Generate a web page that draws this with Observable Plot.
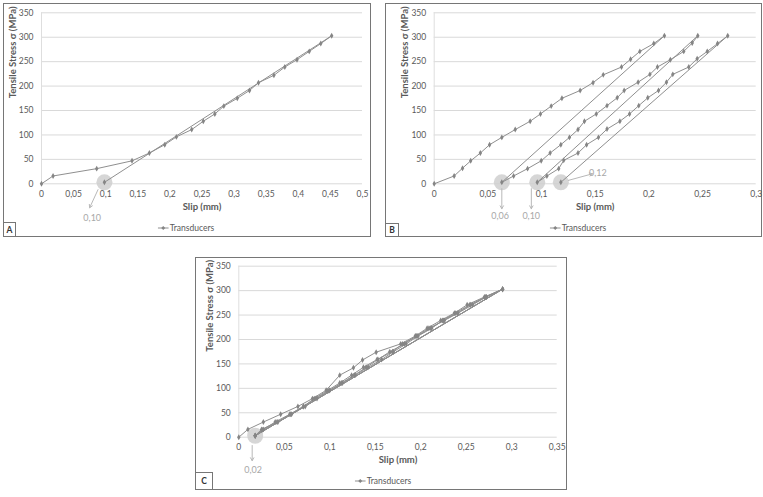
<!DOCTYPE html>
<html>
<head>
<meta charset="utf-8">
<script src="https://cdn.jsdelivr.net/npm/d3@7"></script>
<script src="https://cdn.jsdelivr.net/npm/@observablehq/plot@0.6"></script>
<style>
  body { margin: 0; background: #fff; }
  #page { position: relative; width: 763px; height: 497px; overflow: hidden; background: #fff; font-family: Lato, "Open Sans", sans-serif; }
  .frame { position: absolute; border: 1px solid #767676; box-sizing: border-box; }
  .plot { position: absolute; }
  .tag { position: absolute; border: 1px solid #767676; box-sizing: border-box; font-weight: bold; font-size: 8.5px; color: #333; display: flex; align-items: center; justify-content: center; background: #fff; }
  .legend { position: absolute; font-size: 8.5px; color: #595959; display: flex; align-items: center; white-space: nowrap; transform: translate(-50%, -50%); }
  .legend svg { margin-right: 1px; }
</style>
</head>
<body>
<div id="page"></div>
<script>
// ---------- data ----------
const yTicks = [0, 50, 100, 150, 200, 250, 300, 350];
const xTicksA = [0, 0.05, 0.1, 0.15, 0.2, 0.25, 0.3, 0.35, 0.4, 0.45, 0.5];
const xTicksB = [0, 0.05, 0.1, 0.15, 0.2, 0.25, 0.3];
const xTicksC = [0, 0.05, 0.1, 0.15, 0.2, 0.25, 0.3, 0.35];
const panelNames = ["A", "B", "C"];
const seriesName = "Transducers";
const xTitle = "Slip (mm)";
const yTitle = "Tensile Stress σ (MPa)";

// Panel A: load to peak, unload to residual slip
const slipA = [0, 0.018, 0.086, 0.141, 0.168, 0.192, 0.210, 0.234, 0.252, 0.270, 0.284, 0.305, 0.324, 0.338, 0.362, 0.379, 0.398, 0.417, 0.435, 0.452, 0.098];
const stressA = [0, 16, 31, 47, 63, 80, 96, 111, 128, 143, 159, 175, 191, 207, 222, 239, 254, 271, 287, 303, 3];

// Panel B: three load/unload cycles
const slipB = [
  0, 0.0186, 0.0264, 0.034, 0.043, 0.0516, 0.063, 0.0755, 0.0894, 0.099, 0.109, 0.119, 0.136, 0.148, 0.1575, 0.1745, 0.183, 0.1916, 0.2046, 0.2145, 0.063,
  0.074, 0.087, 0.0997, 0.108, 0.118, 0.126, 0.134, 0.140, 0.151, 0.161, 0.1705, 0.177, 0.190, 0.201, 0.208, 0.220, 0.2325, 0.2404, 0.2456, 0.096,
  0.105, 0.116, 0.1207, 0.134, 0.142, 0.153, 0.161, 0.173, 0.182, 0.1906, 0.199, 0.209, 0.2164, 0.2223, 0.2372, 0.245, 0.2544, 0.264, 0.2735, 0.118
];
const stressB = [
  0, 16, 32, 47, 63, 80, 95, 111, 128, 143, 159, 175, 191, 207, 223, 239, 255, 271, 287, 303, 3,
  16, 31, 47, 63, 80, 95, 111, 128, 143, 160, 176, 191, 208, 224, 239, 254, 271, 288, 303, 3,
  16, 31, 48, 63, 80, 95, 112, 128, 143, 160, 176, 191, 208, 224, 239, 256, 271, 287, 303, 3
];

// Panel C: four cycles around a residual slip of 0.02
const slipC = [
  0, 0.010, 0.027, 0.046, 0.065, 0.081, 0.096, 0.111, 0.126, 0.136, 0.151, 0.178, 0.194, 0.207, 0.222, 0.237, 0.251, 0.270, 0.290, 0.018,
  0.025, 0.042, 0.057, 0.071, 0.083, 0.097, 0.111, 0.124, 0.137, 0.152, 0.169, 0.180, 0.196, 0.211, 0.225, 0.240, 0.255, 0.272, 0.290, 0.018,
  0.027, 0.043, 0.058, 0.073, 0.086, 0.100, 0.113, 0.127, 0.140, 0.153, 0.166, 0.182, 0.195, 0.209, 0.226, 0.241, 0.257, 0.272, 0.290, 0.018,
  0.026, 0.040, 0.056, 0.071, 0.085, 0.099, 0.114, 0.128, 0.142, 0.157, 0.170, 0.184, 0.197, 0.212, 0.224, 0.238, 0.254, 0.271, 0.290, 0.018
];
const stressC = [
  0, 16, 31, 47, 63, 79, 96, 127, 142, 158, 174, 191, 207, 223, 239, 254, 271, 287, 303, 3,
  16, 31, 47, 63, 79, 95, 111, 127, 143, 159, 175, 191, 207, 223, 239, 254, 271, 287, 303, 3,
  16, 31, 47, 63, 79, 96, 111, 127, 143, 159, 175, 191, 207, 223, 239, 254, 271, 287, 303, 3,
  15, 31, 47, 63, 80, 95, 111, 127, 143, 159, 175, 191, 207, 223, 239, 254, 271, 287, 303, 3
];

// annotations: residual slip highlights, arrows and labels
const circlesA = [{x: 0.098, y: 3}];
const arrowsA = [{x1: 0.088, y1: -12, x2: 0.075, y2: -49}];
const labelsA = [{x: 0.079, y: -70, text: "0,10", anchor: "middle"}];

const circlesB = [{x: 0.063, y: 3}, {x: 0.096, y: 3}, {x: 0.118, y: 3}];
const arrowsB = [
  {x1: 0.063, y1: -10, x2: 0.063, y2: -51},
  {x1: 0.0905, y1: -10, x2: 0.0905, y2: -51},
  {x1: 0.125, y1: 7, x2: 0.1475, y2: 20.5}
];
const labelsB = [
  {x: 0.0614, y: -67, text: "0,06", anchor: "middle"},
  {x: 0.0904, y: -67, text: "0,10", anchor: "middle"},
  {x: 0.1525, y: 21, text: "0,12", anchor: "start"}
];

const circlesC = [{x: 0.018, y: 3}];
const arrowsC = [{x1: 0.0147, y1: -17, x2: 0.0147, y2: -48}];
const labelsC = [{x: 0.0158, y: -68, text: "0,02", anchor: "middle"}];

// ---------- drawing ----------
const page = document.getElementById("page");
const fmt = d => String(d).replace(".", ",");
const LINE = "#8f8f8f";
const TXT = "#595959";

function panel(cfg) {
  const {name, slip, stress, xMax, xTicks, circles, arrows, labels, frame, area, legendPos, tagBox} = cfg;
  const W = frame.r - frame.l, H = frame.b - frame.t;
  const fr = document.createElement("div");
  fr.className = "frame";
  Object.assign(fr.style, {left: frame.l + "px", top: frame.t + "px", width: W + "px", height: H + "px"});
  page.appendChild(fr);

  const rows = slip.map((s, i) => ({slip: s, stress: stress[i]}));
  const svg = Plot.plot({
    width: W, height: H,
    marginLeft: area.l - frame.l,
    marginRight: frame.r - area.r,
    marginTop: area.t - frame.t,
    marginBottom: frame.b - area.b,
    style: {background: "transparent", fontFamily: "Lato, 'Open Sans', sans-serif", fontSize: "8.5px", color: TXT, overflow: "visible"},
    x: {domain: [0, xMax]},
    y: {domain: [0, 350]},
    marks: [
      Plot.gridY(yTicks, {stroke: "#d9d9d9", strokeOpacity: 1}),
      Plot.ruleX([0], {stroke: "#dedede"}),
      Plot.axisY(yTicks, {tickSize: 0, tickPadding: 8, label: null, fontSize: 8.5}),
      Plot.axisX(xTicks, {tickSize: 0, tickPadding: 7, tickFormat: fmt, label: null, fontSize: 8.5}),
      Plot.dot(circles, {x: "x", y: "y", r: 8, fill: "#cfcfcf", fillOpacity: 0.85}),
      Plot.line(rows, {x: "slip", y: "stress", stroke: LINE, strokeWidth: 1}),
      Plot.dot(rows, {x: "slip", y: "stress", symbol: "diamond", r: 1.8, fill: "#858585"}),
      Plot.arrow(arrows, {x1: "x1", y1: "y1", x2: "x2", y2: "y2", stroke: "#b8b8b8", strokeWidth: 1, headLength: 5}),
      Plot.text(labels, {x: "x", y: "y", text: "text", textAnchor: d => d.anchor, fill: "#a8a8a8", fontSize: 9}),
      Plot.text([xTitle], {text: d => d, frameAnchor: "bottom", dy: 26, fontWeight: "bold", fontSize: 9.5, fill: TXT}),
      Plot.text([yTitle], {text: d => d, frameAnchor: "left", dx: -29, rotate: -90, fontWeight: "bold", fontSize: 9.5, fill: TXT})
    ]
  });
  svg.classList.add("plot");
  svg.style.left = frame.l + "px";
  svg.style.top = frame.t + "px";
  page.appendChild(svg);

  const tag = document.createElement("div");
  tag.className = "tag";
  tag.textContent = name;
  Object.assign(tag.style, {left: frame.l + "px", top: (frame.b - tagBox.h) + "px", width: tagBox.w + "px", height: tagBox.h + "px"});
  page.appendChild(tag);

  const lg = document.createElement("div");
  lg.className = "legend";
  lg.innerHTML = `<svg width="11" height="6"><line x1="0" y1="3" x2="11" y2="3" stroke="${LINE}" stroke-width="1"/><path d="M5.5 1 L7.5 3 L5.5 5 L3.5 3 Z" fill="#858585"/></svg><span>${seriesName}</span>`;
  Object.assign(lg.style, {left: legendPos.x + "px", top: legendPos.y + "px"});
  page.appendChild(lg);
}

panel({name: panelNames[0], slip: slipA, stress: stressA, xMax: 0.5, xTicks: xTicksA,
  circles: circlesA, arrows: arrowsA, labels: labelsA,
  frame: {l: 3, t: 3, r: 371, b: 237}, area: {l: 41, r: 362, t: 12.3, b: 183.3},
  legendPos: {x: 186, y: 228}, tagBox: {w: 13, h: 15}});

panel({name: panelNames[1], slip: slipB, stress: stressB, xMax: 0.3, xTicks: xTicksB,
  circles: circlesB, arrows: arrowsB, labels: labelsB,
  frame: {l: 385, t: 3, r: 762, b: 237}, area: {l: 433.7, r: 755.7, t: 12.3, b: 183.3},
  legendPos: {x: 578, y: 228}, tagBox: {w: 14, h: 14}});

panel({name: panelNames[2], slip: slipC, stress: stressC, xMax: 0.35, xTicks: xTicksC,
  circles: circlesC, arrows: arrowsC, labels: labelsC,
  frame: {l: 195, t: 257, r: 567, b: 490}, area: {l: 238.3, r: 556.7, t: 265.7, b: 436.7},
  legendPos: {x: 383, y: 481}, tagBox: {w: 18, h: 18}});
</script>
</body>
</html>
